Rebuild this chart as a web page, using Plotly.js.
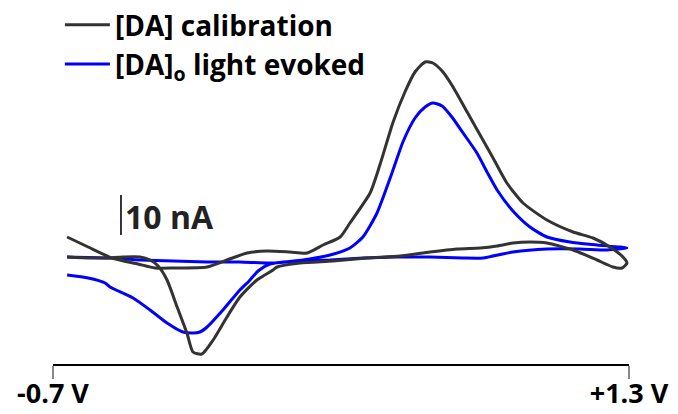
<!DOCTYPE html>
<html>
<head>
<meta charset="utf-8">
<script src="https://cdn.plot.ly/plotly-3.0.1.min.js"></script>
<style>html,body{margin:0;padding:0;background:#fff;}#chart{width:678px;height:414px;}</style>
</head>
<body>
<div id="chart"></div>
<script>
// Potential (V) and current (nA)
const calibV = [-0.651,-0.578,-0.495,-0.405,-0.346,-0.283,-0.165,-0.096,-0.026,0.043,0.123,0.182,0.238,0.297,0.331,0.401,0.435,0.481,0.522,0.557,0.592,0.619,0.654,0.689,0.738,0.783,0.828,0.876,0.932,1.015,1.106,1.175,1.234,1.279,1.293,1.276,1.244,1.189,1.106,1.015,0.956,0.897,0.842,0.783,0.703,0.609,0.505,0.390,0.272,0.158,0.078,0.064,0.008,-0.051,-0.096,-0.144,-0.183,-0.214,-0.235,-0.269,-0.304,-0.335,-0.363,-0.398,-0.457,-0.519,-0.572,-0.651];
const calibI = [5.25,2.75,0,-1.5,-2.5,-2.5,-2.25,-0.5,1.25,1.75,1.5,1.25,3.25,5.25,8.75,16.25,23.25,34,41.5,46.5,49,48.75,46.5,42.75,36.5,30.75,25,18.75,13.75,9.5,6.5,5,2.75,0.25,-1.25,-2.5,-2.25,-0.5,2,3.75,4,3.75,3,2.5,2.25,1.5,0.5,0,-0.75,-1.25,-2.25,-3,-5.5,-9.75,-14.75,-20.5,-24,-23.5,-18.75,-12.25,-5.5,-2,-0.5,0.25,0.25,0,0,0.25];

const lightV = [-0.651,-0.578,-0.519,-0.502,-0.422,-0.363,-0.304,-0.249,-0.214,-0.190,-0.165,-0.110,-0.051,-0.019,0.012,0.053,0.168,0.262,0.331,0.376,0.425,0.477,0.515,0.557,0.592,0.619,0.651,0.685,0.724,0.772,0.807,0.842,0.897,0.956,1.015,1.095,1.189,1.293,1.224,1.130,1.015,0.897,0.793,0.724,0.609,0.494,0.376,0.262,0.168,0.053,-0.051,-0.165,-0.283,-0.398,-0.512,-0.651];
const lightI = [-4.25,-5,-6.25,-7.25,-10,-13,-16.25,-18.5,-18.75,-18.5,-17.25,-13,-8,-5.75,-3.25,-1.5,-0.5,0.75,2.5,5.25,11.25,21.25,29,35,37.75,38.75,38,35.25,31.25,26.25,21.5,17,11.75,7.75,5.25,4,3.25,2.5,2,2.25,2.25,1.5,0,0,0.25,0.25,0,-0.5,-0.75,-1.25,-1,-1,-0.75,-0.5,0,0.25];

const seriesNames = ['[DA] calibration', '[DA]<sub>o</sub> light evoked'];
const seriesColors = ['#333333', '#0000ff'];
const tickVals = [-0.7, 1.3];
const tickText = ['-0.7 V', '+1.3 V'];
const scaleBarNA = 10;
const scaleBarLabel = '10 nA';

const FONT = '"Open Sans", "DejaVu Sans", sans-serif';

const traces = [
  {x: lightV, y: lightI, name: seriesNames[1], type: 'scatter', mode: 'lines',
   line: {color: seriesColors[1], width: 3, shape: 'spline', smoothing: 0.6}},
  {x: calibV, y: calibI, name: seriesNames[0], type: 'scatter', mode: 'lines',
   line: {color: seriesColors[0], width: 3, shape: 'spline', smoothing: 0.6}}
];

const layout = {
  width: 678, height: 414,
  margin: {l: 53, r: 49, t: 0, b: 50, autoexpand: false},
  paper_bgcolor: '#fff', plot_bgcolor: '#fff',
  showlegend: true,
  legend: {
    traceorder: 'reversed',
    x: 0.012, y: 1.0, xanchor: 'left', yanchor: 'top',
    font: {family: FONT, size: 28, color: '#000', weight: 700},
    bgcolor: 'rgba(0,0,0,0)', borderwidth: 0,
    itemwidth: 45
  },
  xaxis: {
    range: [-0.7, 1.3], showgrid: false, zeroline: false,
    showline: true, linecolor: '#000', linewidth: 1.5,
    ticks: 'outside', ticklen: 13, tickwidth: 2, tickcolor: '#888',
    tickvals: tickVals, ticktext: tickText, ticklabelstandoff: -8,
    tickfont: {family: FONT, size: 27, color: '#000', weight: 700},
    fixedrange: true
  },
  yaxis: {
    range: [-26.5, 64.5], visible: false, showgrid: false, zeroline: false, fixedrange: true
  },
  shapes: [
    {type: 'line', xref: 'x', yref: 'y', x0: -0.464, x1: -0.464, y0: 5.75, y1: 5.75 + scaleBarNA,
     line: {color: '#333', width: 2}}
  ],
  annotations: [
    {xref: 'x', yref: 'y', x: -0.458, y: 10.5, xanchor: 'left', yanchor: 'middle',
     text: scaleBarLabel, showarrow: false,
     font: {family: FONT, size: 32, color: '#222', weight: 700}}
  ]
};

Plotly.newPlot('chart', traces, layout, {staticPlot: true, displayModeBar: false});
</script>
</body>
</html>
